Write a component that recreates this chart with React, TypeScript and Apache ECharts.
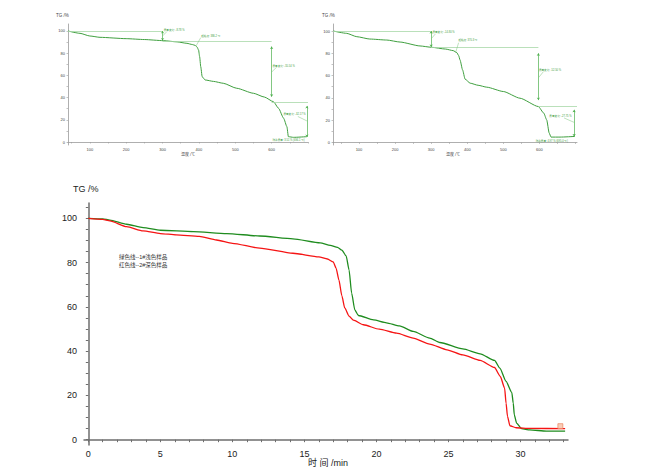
import React, { useEffect, useRef } from "react";
import * as echarts from "echarts";

// ---- Top-left TG curve (sample 1), temperature °C vs TG %
const tempA = [40, 73, 100, 128, 200, 250, 302, 340, 367, 382, 390, 395, 399, 402, 405, 409, 417, 440, 467, 504, 550, 580, 605, 619, 633, 642, 646, 660, 697];
const tgA = [100, 97.9, 95.5, 94.3, 93.1, 92.3, 91.3, 90.2, 88.9, 87.8, 87.0, 85.5, 82.9, 76.9, 67.9, 58.8, 55.9, 54.6, 52.9, 48.4, 43.9, 40.5, 36.3, 30.4, 21.4, 13.8, 4.8, 4.2, 4.8];

// ---- Top-right TG curve (sample 2)
const tempB = [29, 66, 94, 130, 177, 214, 269, 301, 340, 361, 371, 376, 380, 387, 394, 408, 430, 454, 500, 546, 597, 612, 620, 627, 632, 657, 698];
const tgB = [100, 97.9, 94.9, 92.8, 91.9, 90.1, 86.6, 85.4, 83.8, 82.4, 80.6, 78, 74, 65.1, 56.8, 53.2, 51.3, 49.6, 45.7, 39.7, 32.2, 26.3, 20.3, 8.4, 4.8, 4.8, 5.4];

// ---- Bottom chart: time (min) vs TG %
const timeGreen = [0, 1, 1.5, 2.66, 3.8, 5, 7.3, 9.6, 11.9, 14.2, 16.1, 16.8, 17.3, 17.6, 17.9, 18.1, 18.28, 18.5, 18.75, 19.8, 20.7, 21.6, 22.55, 23.7, 24.4, 26.0, 27.2, 28.2, 28.57, 29.0, 29.4, 29.5, 29.57, 29.73, 30.08, 30.65, 31.8, 33.1];
const tgGreen = [100, 99.7, 99.2, 97.3, 95.8, 94.6, 94.0, 93.1, 92.0, 90.7, 88.9, 87.8, 86.9, 85.6, 83, 76.7, 66.2, 58.6, 56.1, 54.1, 52.8, 51.4, 48.9, 45.9, 43.9, 41.0, 38.8, 35.8, 32.3, 26.3, 21.3, 16.5, 11.3, 7.5, 5.0, 4.4, 3.9, 3.9];
const timeRed = [0, 1, 1.5, 2.66, 3.8, 5, 6.1, 7.7, 8.9, 10, 11.9, 14.2, 16, 16.6, 17.0, 17.2, 17.4, 17.6, 17.8, 18.1, 18.4, 19.1, 20.2, 21.4, 22.55, 23.7, 24.9, 26.0, 27.2, 28.2, 28.6, 28.9, 29.0, 29.1, 29.27, 29.7, 30.65, 33.1];
const tgRed = [100, 99.5, 98.8, 96.2, 94.3, 93.1, 92.5, 91.8, 90.2, 88.7, 86.5, 84.2, 82.6, 81.6, 80.3, 77.5, 72, 65, 59.5, 55.8, 54.0, 51.9, 49.9, 48.1, 45.9, 43.2, 40.6, 38.3, 35.8, 32.6, 28.6, 23.3, 16.5, 10.5, 6.3, 5.4, 5.1, 5.0];

// ---- Tick labels
const tempTicks = [100, 200, 300, 400, 500, 600];
const tgTicks = [0, 20, 40, 60, 80, 100];
const timeTicks = [0, 5, 10, 15, 20, 25, 30];

// ---- Annotations (data coordinates)
const levelsA = [[40, 100, 300, 100], [300, 91.2, 600, 91.2], [600, 35.7, 700, 35.7]];
const arrowsA = [[300, 100, 300, 91.4], [600, 86, 600, 40.8], [697, 32.5, 697, 4.5]];
const leadersA = [[300, 95.5, 312, 99.5], [392, 86.5, 405, 94], [600, 63, 614, 67.5], [672, 23, 697, 19]];
const labelsA: [number, number, string][] = [
  [302, 100.6, "质量变化: -8.78 %"],
  [405, 95.3, "起始点: 386.2 ℃"],
  [601, 68.5, "质量变化: -55.54 %"],
  [631, 25.2, "质量变化: -32.17 %"],
  [601, 1.2, "残余质量: 3.51 % (694.1 ℃)"],
];
const levelsB = [[28, 100, 300, 100], [300, 85.2, 597, 85.2], [597, 32.5, 704, 32.5]];
const arrowsB = [[300, 100, 300, 85.7], [597, 80, 597, 38], [696, 29.3, 696, 5.4]];
const leadersB = [[300, 93, 312, 97.5], [368, 81, 376, 89.5], [597, 58, 611, 63.5], [668, 22, 696, 18]];
const labelsB: [number, number, string][] = [
  [302, 98.3, "质量变化: -14.80 %"],
  [374, 91.3, "起始点: 370.3 ℃"],
  [597, 64.2, "质量变化: -52.50 %"],
  [626, 23.3, "质量变化: -27.75 %"],
  [588, 1.2, "残余质量: 4.97 % (695.0 ℃)"],
];

const FONT = "'Liberation Sans', Arial, 'Noto Sans CJK SC', sans-serif";

function range(a: number, b: number, s: number) {
  const out: number[] = [];
  for (let v = a; v <= b + 1e-9; v += s) out.push(Math.round(v * 1000) / 1000);
  return out;
}
function zip(xs: number[], ys: number[]) {
  return xs.map((x, i) => [x, ys[i]]);
}

function topX(gridIndex: number, min: number, max: number) {
  return {
    type: "value", gridIndex, min, max,
    axisLine: { show: true, lineStyle: { color: "#9a9a9a", width: 0.8 } },
    axisTick: { show: true, length: 1.5, lineStyle: { color: "#9a9a9a", width: 0.6 }, customValues: range(50, 700, 50).filter((v) => v >= min && v <= max) },
    axisLabel: { show: true, customValues: tempTicks, fontSize: 4, color: "#444", margin: 2.5, fontFamily: FONT },
    splitLine: { show: false },
  };
}
function topY(gridIndex: number, min: number, max: number) {
  return {
    type: "value", gridIndex, min, max,
    axisLine: { show: true, lineStyle: { color: "#9a9a9a", width: 0.8 } },
    axisTick: { show: true, length: 1.5, lineStyle: { color: "#9a9a9a", width: 0.6 }, customValues: range(0, 100, 10) },
    axisLabel: { show: true, customValues: tgTicks, fontSize: 4, color: "#444", margin: 3, fontFamily: FONT },
    splitLine: { show: false },
  };
}

function seg(s: number[], extra: any = {}) {
  return [{ coord: [s[0], s[1]], ...extra }, { coord: [s[2], s[3]], ...extra }];
}

function annotations(levels: number[][], arrows: number[][], leaders: number[][], labels: [number, number, string][]) {
  return {
    markLine: {
      silent: true,
      animation: false,
      symbol: ["none", "none"],
      label: { show: false },
      emphasis: { disabled: true },
      lineStyle: { color: "#a8d8a8", width: 0.8, type: "solid" },
      data: [
        ...levels.map((s) => seg(s)),
        ...arrows.map((s) => {
          const p = seg(s, { symbol: "arrow", symbolSize: 2.5 });
          (p[0] as any).lineStyle = { color: "#4caf4c", width: 0.7, type: "solid" };
          return p;
        }),
        ...leaders.map((s) => {
          const p = seg(s);
          (p[0] as any).lineStyle = { color: "#7cc47c", width: 0.5, type: "solid" };
          return p;
        }),
      ],
    },
    markPoint: {
      silent: true,
      animation: false,
      data: labels.map(([x, y, t]) => ({
        coord: [x, y],
        symbol: "circle",
        symbolSize: 1,
        itemStyle: { color: "rgba(0,0,0,0)" },
        label: { show: true, position: "right", distance: 0, formatter: t, fontSize: 2.6, color: "#3c9c3c", fontFamily: FONT },
      })),
    },
  };
}

export default function App() {
  const ref = useRef<HTMLDivElement>(null);
  useEffect(() => {
    if (!ref.current) return;
    const chart = echarts.init(ref.current, null, { renderer: "svg" });
    const option: any = {
      animation: false,
      backgroundColor: "#ffffff",
      textStyle: { fontFamily: FONT },
      grid: [
        { left: 68, top: 24, width: 240, height: 121, containLabel: false, outerBoundsMode: "none" },
        { left: 333, top: 24, width: 244, height: 121, containLabel: false, outerBoundsMode: "none" },
        { left: 84, top: 203, width: 484, height: 242, containLabel: false, outerBoundsMode: "none" },
      ],
      xAxis: [
        topX(0, 40, 700),
        topX(1, 28, 704),
        {
          type: "value", gridIndex: 2, min: -0.3, max: 33.3,
          axisLine: { show: true, lineStyle: { color: "#6e6e6e", width: 1.5 } },
          axisTick: { show: true, length: 2.5, lineStyle: { color: "#6e6e6e", width: 1 }, customValues: range(0, 33, 1) },
          axisLabel: { show: true, customValues: timeTicks, fontSize: 9, color: "#222", margin: 4, fontFamily: FONT },
          splitLine: { show: false },
        },
      ],
      yAxis: [
        topY(0, -2.7, 106.3),
        topY(1, -2.3, 106.3),
        {
          type: "value", gridIndex: 2, min: -2.4, max: 106.9,
          axisLine: { show: true, lineStyle: { color: "#6e6e6e", width: 1.5 } },
          axisTick: { show: true, length: 2.5, lineStyle: { color: "#6e6e6e", width: 1 }, customValues: range(0, 105, 5) },
          axisLabel: { show: true, customValues: tgTicks, fontSize: 9, color: "#222", margin: 7, fontFamily: FONT },
          splitLine: { show: false },
        },
      ],
      series: [
        {
          type: "line", xAxisIndex: 0, yAxisIndex: 0, data: zip(tempA, tgA),
          showSymbol: false, smooth: 0.2, smoothMonotone: "x", silent: true,
          lineStyle: { color: "#3f9f3f", width: 1 },
          ...annotations(levelsA, arrowsA, leadersA, labelsA),
        },
        {
          type: "line", xAxisIndex: 1, yAxisIndex: 1, data: zip(tempB, tgB),
          showSymbol: false, smooth: 0.2, smoothMonotone: "x", silent: true,
          lineStyle: { color: "#3f9f3f", width: 1 },
          ...annotations(levelsB, arrowsB, leadersB, labelsB),
        },
        {
          type: "line", xAxisIndex: 2, yAxisIndex: 2, data: zip(timeGreen, tgGreen),
          showSymbol: false, smooth: 0.2, smoothMonotone: "x", silent: true,
          lineStyle: { color: "#1f8c1f", width: 1.3 },
        },
        {
          type: "line", xAxisIndex: 2, yAxisIndex: 2, data: zip(timeRed, tgRed),
          showSymbol: false, smooth: 0.2, smoothMonotone: "x", silent: true,
          lineStyle: { color: "#f51414", width: 1.3 },
          markPoint: {
            silent: true, animation: false,
            data: [{ coord: [32.77, 6.1], symbol: "rect", symbolSize: [5, 5], itemStyle: { color: "#f9cdb8", borderColor: "#e8744c", borderWidth: 0.6 }, label: { show: false } }],
          },
        },
      ],
      graphic: [
        { type: "text", left: 56, top: 13, style: { text: "TG /%", fontSize: 4.5, fill: "#444", fontFamily: FONT } },
        { type: "text", left: 322, top: 13, style: { text: "TG /%", fontSize: 4.5, fill: "#444", fontFamily: FONT } },
        { type: "text", x: 188, y: 154, style: { text: "温度 /℃", fontSize: 4, fill: "#444", align: "center", verticalAlign: "middle", fontFamily: FONT } },
        { type: "text", x: 453, y: 154, style: { text: "温度 /℃", fontSize: 4, fill: "#444", align: "center", verticalAlign: "middle", fontFamily: FONT } },
        { type: "text", x: 73, y: 189, style: { text: "TG /%", fontSize: 9, fill: "#222", verticalAlign: "middle", fontFamily: FONT } },
        { type: "text", x: 308, y: 463, style: { text: "时 间 /min", fontSize: 9, fill: "#222", verticalAlign: "middle", fontFamily: FONT } },
        { type: "text", x: 119, y: 257, style: { text: "绿色线--1#浅色样品", fontSize: 5.5, fill: "#333", verticalAlign: "middle", fontFamily: FONT } },
        { type: "text", x: 119, y: 265, style: { text: "红色线--2#深色样品", fontSize: 5.5, fill: "#333", verticalAlign: "middle", fontFamily: FONT } },
      ],
    };
    chart.setOption(option);
    return () => chart.dispose();
  }, []);
  return <div ref={ref} style={{ position: "absolute", left: 0, top: 0, width: 660, height: 475 }} />;
}
